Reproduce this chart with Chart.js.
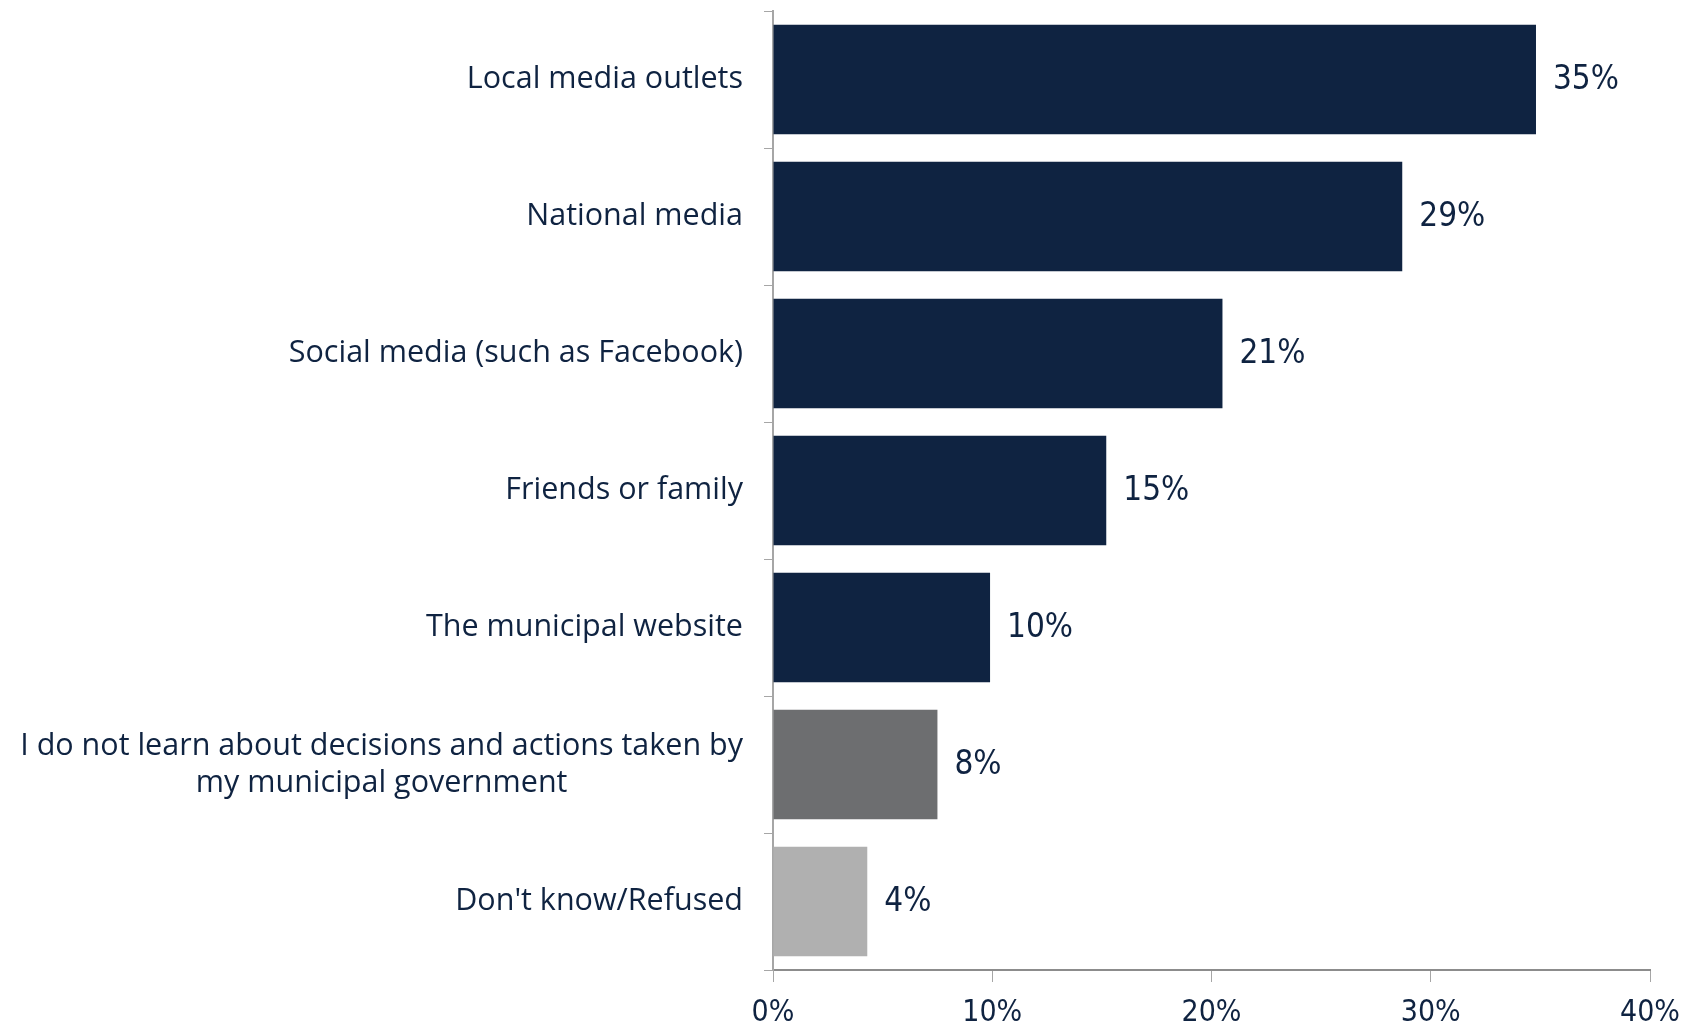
<!DOCTYPE html>
<html>
<head>
<meta charset="utf-8">
<script src="https://cdn.jsdelivr.net/npm/chart.js@4.4.1/dist/chart.umd.min.js"></script>
<style>
  html, body { margin: 0; padding: 0; background: #ffffff; }
  #wrap { width: 1694px; height: 1028px; position: relative; }
</style>
</head>
<body>
<div id="wrap"><canvas id="sourcesChart"></canvas></div>
<script>
// Chart data
const categories = [
    'Local media outlets',
    'National media',
    'Social media (such as Facebook)',
    'Friends or family',
    'The municipal website',
    ['I do not learn about decisions and actions taken by', 'my municipal government'],
    "Don't know/Refused"
];
const shares = [34.8, 28.7, 20.5, 15.2, 9.9, 7.5, 4.3];
const barColors = ['#0f2341', '#0f2341', '#0f2341', '#0f2341', '#0f2341', '#6d6e70', '#b0b0b0'];
const xTicks = [0, 10, 20, 30, 40];

const navy = '#0f2341';
const labelFont = '30.5px "Open Sans"';
const valueFont = '33px "DejaVu Sans Condensed", "Open Sans"';

// Draws the category labels (block right-aligned, lines centered) and value labels
const labelPlugin = {
    id: 'labelPlugin',
    afterDraw(chart) {
        const ctx = chart.ctx;
        const yScale = chart.scales.y;
        ctx.save();
        ctx.fillStyle = navy;
        ctx.font = labelFont;
        ctx.textBaseline = 'middle';
        ctx.textAlign = 'center';
        const right = yScale.right - 30;
        const lineH = 37;
        categories.forEach((label, i) => {
            const lines = Array.isArray(label) ? label : [label];
            const blockW = Math.max(...lines.map(l => ctx.measureText(l).width));
            const cx = right - blockW / 2;
            const cy = yScale.getPixelForValue(i);
            const top = cy - (lines.length - 1) * lineH / 2;
            lines.forEach((l, j) => ctx.fillText(l, cx, top + j * lineH));
        });

        ctx.font = valueFont;
        ctx.textAlign = 'left';
        const meta = chart.getDatasetMeta(0);
        meta.data.forEach((bar, i) => {
            ctx.fillText(Math.round(shares[i]) + '%', bar.x + 17, bar.y + 1);
        });
        ctx.restore();
    }
};

const ctx = document.getElementById('sourcesChart');
new Chart(ctx, {
    type: 'bar',
    data: {
        labels: categories,
        datasets: [{
            data: shares,
            backgroundColor: barColors,
            borderWidth: 0,
            categoryPercentage: 1,
            barPercentage: 0.8
        }]
    },
    options: {
        indexAxis: 'y',
        responsive: true,
        maintainAspectRatio: false,
        animation: false,
        layout: {
            padding: { top: 11, right: 44, bottom: 0, left: 0 }
        },
        scales: {
            x: {
                min: 0,
                max: 40,
                afterBuildTicks(scale) {
                    scale.ticks = xTicks.map(v => ({ value: v }));
                },
                afterFit(scale) {
                    scale.height = 58;
                },
                grid: {
                    drawOnChartArea: false,
                    drawTicks: true,
                    tickLength: 12,
                    color: '#a6a6a6'
                },
                border: { display: true, color: '#8c8c8c', width: 2 },
                ticks: {
                    padding: 13,
                    color: navy,
                    maxRotation: 0,
                    font: { family: '"DejaVu Sans Condensed", "Open Sans"', size: 30 },
                    callback: v => v + '%'
                }
            },
            y: {
                afterFit(scale) {
                    scale.width = 773;
                },
                grid: {
                    drawOnChartArea: false,
                    drawTicks: true,
                    tickLength: 9,
                    color: '#a6a6a6'
                },
                border: { display: true, color: '#a6a6a6', width: 2 },
                ticks: {
                    color: 'rgba(0,0,0,0)',
                    font: { size: 1 }
                }
            }
        },
        plugins: {
            legend: { display: false },
            tooltip: { enabled: false }
        }
    },
    plugins: [labelPlugin]
});
</script>
</body>
</html>
